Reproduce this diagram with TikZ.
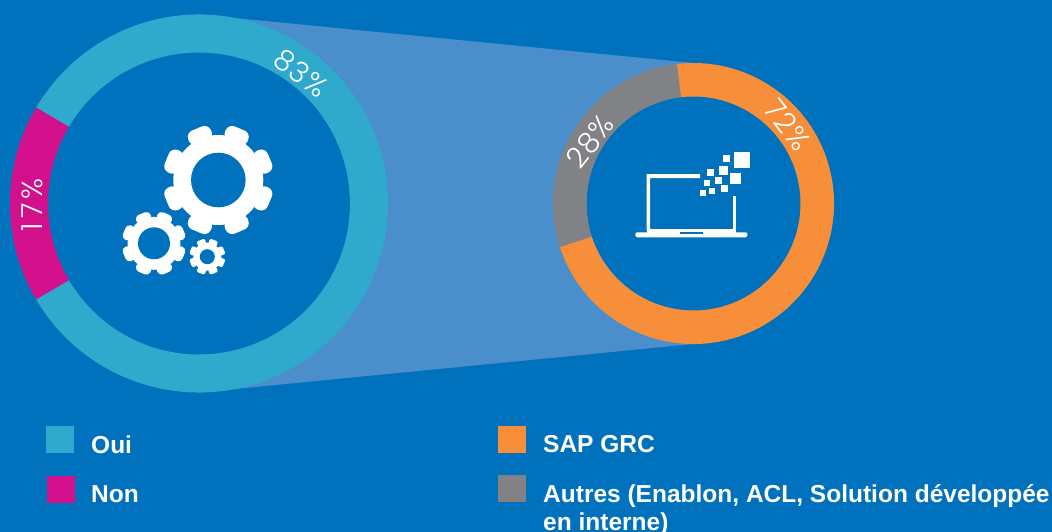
\documentclass[tikz,border=0pt]{standalone}
\usepackage{fontspec}
\setmainfont{Liberation Sans}
\newfontfamily\thinfont[LetterSpace=4]{Poppins Light}
\definecolor{bgblue}{RGB}{0,113,188}
\definecolor{conecol}{RGB}{74,142,204}
\definecolor{tealc}{RGB}{47,169,204}
\definecolor{pinkc}{RGB}{210,16,140}
\definecolor{orangec}{RGB}{247,143,58}
\definecolor{grayc}{RGB}{128,130,133}
\tikzset{
  pct/.style={text=white,font=\thinfont\fontsize{29}{29}\selectfont,inner sep=0pt},
  legtext/.style={text=white,font=\bfseries\fontsize{24.5}{28}\selectfont,inner sep=0pt,anchor=base west},
  legbox/.style={minimum width=28pt,minimum height=27pt,inner sep=0pt,outer sep=0pt,anchor=north west}
}
\newcommand{\ringseg}[7]{\fill[#7] ([shift={(#1,#2)}]-#5:#3) arc[start angle=-#5,end angle=-#6,radius=#3] -- ([shift={(#1,#2)}]-#6:#4) arc[start angle=-#6,end angle=-#5,radius=#4] -- cycle;}
\newcommand{\gearshape}[8]{%
  \fill[white] (#1,#2) circle[radius=#4];
  \foreach \a in {22.5,67.5,...,337.5}{
    \fill[white,rounded corners=#8pt] ([shift={(#1,#2)}]\a-#7:#4-2) -- ([shift={(#1,#2)}]\a-#6:#3) -- ([shift={(#1,#2)}]\a+#6:#3) -- ([shift={(#1,#2)}]\a+#7:#4-2) -- cycle;
  }
  \fill[bgblue] (#1,#2) circle[radius=#5];
}
\begin{document}
\begin{tikzpicture}[x=1pt,y=-1pt]
\useasboundingbox (0,0) rectangle (1052,532);
\fill[bgblue] (0,0) rectangle (1052,532);
\fill[conecol] (199,14.5) -- (693.5,63) -- (693.5,344) -- (199,392.5) -- cycle;
\fill[bgblue] (199,203.5) circle[radius=151];
\ringseg{199}{203.5}{189}{151}{-149.5}{149.5}{tealc}
\ringseg{199}{203.5}{189}{151}{149.5}{210.5}{pinkc}
\fill[bgblue] (693.5,203.5) circle[radius=107];
\ringseg{693.5}{203.5}{140.5}{107}{-162}{96.8}{orangec}
\ringseg{693.5}{203.5}{140.5}{107}{96.8}{198}{grayc}
\gearshape{218.3}{180}{57}{45}{27.3}{12}{17}{6.5}
\gearshape{154}{243.3}{33}{26.5}{16}{13}{19}{4}
\gearshape{207.3}{256.7}{18.5}{14}{7.5}{14}{20}{2}
\fill[white] (646.7,178) -- (646.7,174) -- (700,174) -- (700,178) -- (650,178) -- (650,230) -- (646.7,230) -- cycle;
\fill[white] (733,196) rectangle (735.7,230);
\fill[white] (646.7,229.3) rectangle (735.7,233);
\fill[white,rounded corners=1.5pt] (635.3,232.3) rectangle (747.3,237.3);
\fill[bgblue] (680,232) rectangle (702.7,234);
\foreach \xa/\ya/\xb/\yb in {342/66/390/114,309/75/330/96,297/108/324/135,261/117/282/138,330/129/363/162,285/141/306/162,252/150/270/168,303/165/324/186,267/174/285/192,240/180/258/198}{
  \fill[white] ({620+\xa/3},{130+\ya/3}) rectangle ({620+\xb/3},{130+\yb/3});
}
\node[pct,rotate=-37] (p83) at (301,73) {83\%};
\node[pct,rotate=90] (p17) at (32,205) {1\hspace{5pt}7\hspace{4pt}\%};
\node[pct,rotate=-52] (p72) at (788,125) {72\%};
\node[pct,rotate=52] (p28) at (590,141) {28\%};
\node[legbox,fill=tealc] (b1) at (46,426) {};
\node[legbox,fill=pinkc] (b2) at (46.5,476) {};
\node[legbox,fill=orangec] (b3) at (498,426) {};
\node[legbox,fill=grayc] (b4) at (498,475) {};
\node[legtext] (t1) at (91,453) {Oui};
\node[legtext] (t2) at (91,502) {Non};
\node[legtext] (t3) at (543,452.5) {SAP GRC};
\node[legtext] (t4) at (543,502) {Autres (Enablon, ACL, Solution développée};
\node[legtext] (t5) at (543,530) {en interne)};
\end{tikzpicture}
\end{document}
